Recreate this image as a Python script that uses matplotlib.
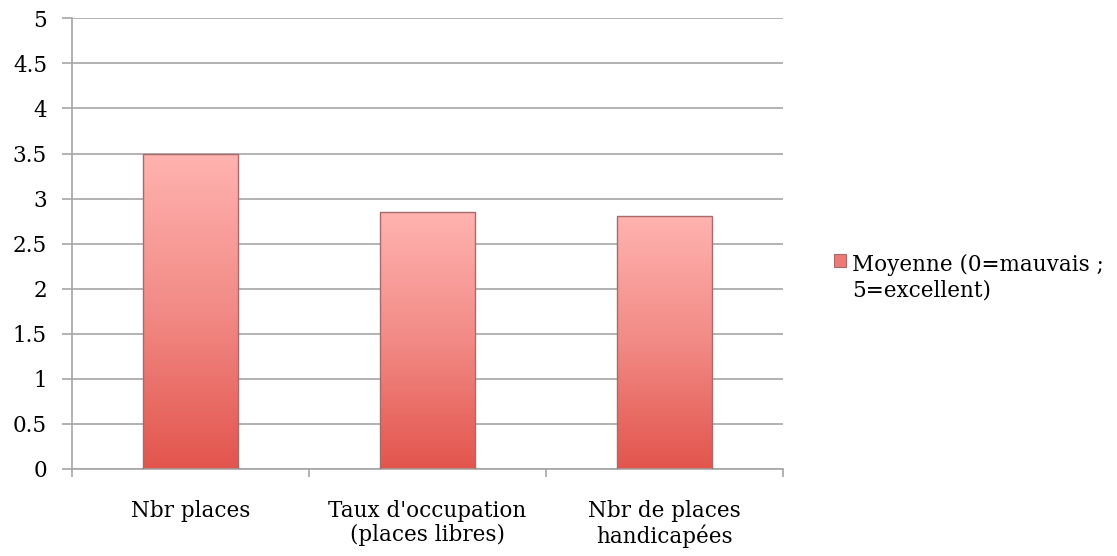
import numpy as np
import matplotlib.pyplot as plt
from matplotlib.colors import LinearSegmentedColormap
from matplotlib.patches import Patch, Rectangle
from matplotlib.legend_handler import HandlerPatch

categories = ["Nbr places", "Taux d'occupation\n(places libres)", "Nbr de places\nhandicapées"]
values = [3.5, 2.85, 2.81]
series_label = "Moyenne (0=mauvais ;\n5=excellent)"
yticks = [0, 0.5, 1, 1.5, 2, 2.5, 3, 3.5, 4, 4.5, 5]

plt.rcParams.update({
    "font.family": ["DejaVu Serif"],
    "font.size": 15.5,
    "xtick.labelsize": 15.5,
    "ytick.labelsize": 15.5,
})


class FirstLineHandler(HandlerPatch):
    # put the legend square next to the first line of a two-line label
    def create_artists(self, legend, orig_handle, xdescent, ydescent,
                       width, height, fontsize, trans):
        p = Rectangle((-xdescent, -ydescent + fontsize * 0.85), width, height)
        self.update_prop(p, orig_handle, legend)
        p.set_transform(trans)
        return [p]


grid_c = "#a6a6a6"
fig = plt.figure(figsize=(11.17, 5.56), dpi=100)
ax = fig.add_axes([0.0645, 0.1565, 0.6365, 0.8105])

x = np.arange(len(categories))
bars = ax.bar(x, values, width=0.4, facecolor="none", edgecolor="#a86a6a", lw=1.0, zorder=3)

# vertical gradient inside each bar
cmap = LinearSegmentedColormap.from_list("bar", ["#e2554d", "#f28a85", "#ffb3b0"])
grad = np.linspace(0, 1, 256).reshape(-1, 1)
for b in bars:
    x0, y0 = b.get_x(), b.get_y()
    w, h = b.get_width(), b.get_height()
    im = ax.imshow(grad, cmap=cmap, origin="lower", aspect="auto",
                   extent=[x0, x0 + w, y0, y0 + h], zorder=2)
    im.set_clip_path(b)

ax.set_xlim(-0.5, len(categories) - 0.5)
ax.set_ylim(0, 5)
ax.set_yticks(yticks)
ax.set_yticklabels([f"{t:g}" for t in yticks])
ax.set_xticks(x)
ax.set_xticklabels(categories, linespacing=1.15)
ax.set_xticks(np.arange(len(categories) + 1) - 0.5, minor=True)
ax.tick_params(axis="x", which="major", length=0, pad=22)
ax.tick_params(axis="x", which="minor", length=6, color=grid_c, width=1.2)
ax.tick_params(axis="y", length=7, color=grid_c, width=1.2, pad=11)

ax.yaxis.grid(True, color=grid_c, lw=1.2)
ax.set_axisbelow(True)
for s in ["top", "right"]:
    ax.spines[s].set_visible(False)
for s in ["left", "bottom"]:
    ax.spines[s].set_color(grid_c)
    ax.spines[s].set_linewidth(1.2)

handle = Patch(facecolor="#ef7a75", edgecolor="#a86a6a", lw=0.8)
fig.legend([handle], [series_label], loc="center left", bbox_to_anchor=(0.729, 0.50),
           frameon=False, handlelength=0.55, handleheight=0.55, handletextpad=0.3,
           fontsize=15.5, handler_map={Patch: FirstLineHandler()})

fig.savefig("out.png", dpi=100)
